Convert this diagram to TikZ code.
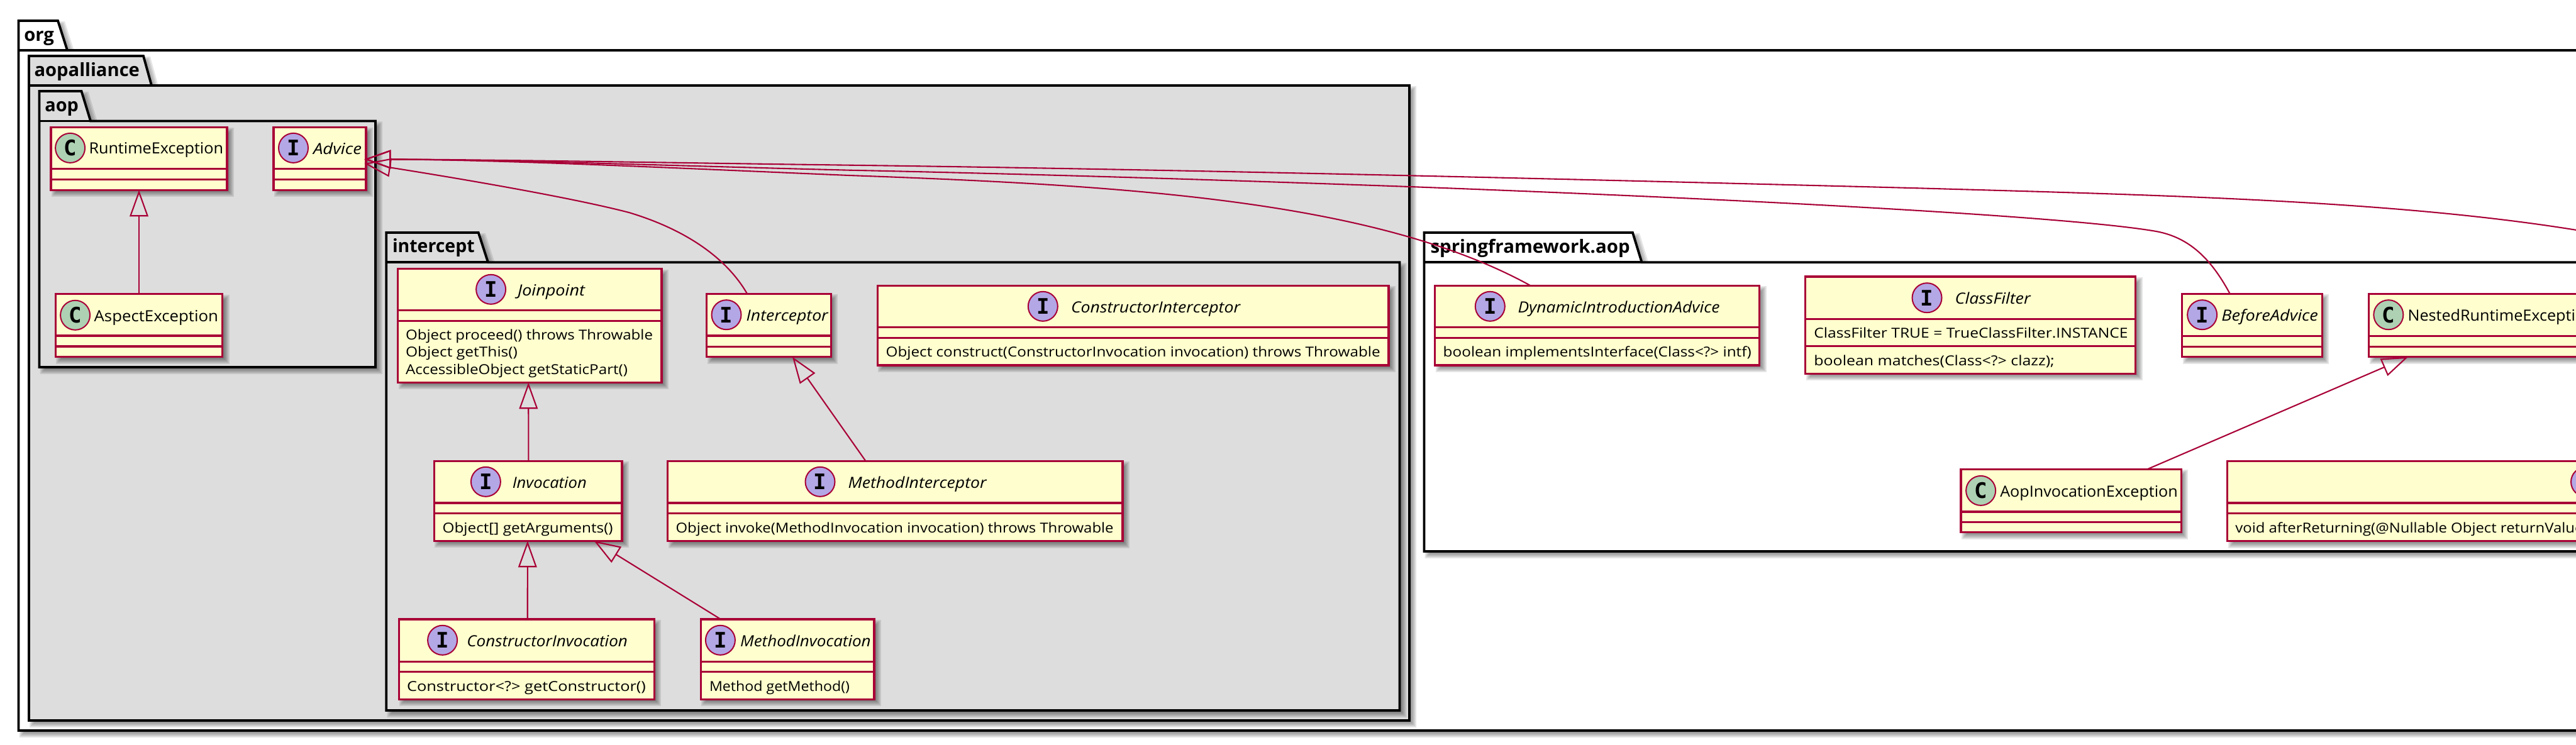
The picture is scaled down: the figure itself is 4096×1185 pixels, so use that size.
\documentclass[tikz,border=0pt]{standalone}
\usepackage{graphicx}
\usepackage{fontspec}
\setmainfont{Open Sans}
\newfontfamily\letterfont{DejaVu Sans Mono}[BoldFont={DejaVu Sans Mono Bold}]
\usetikzlibrary{arrows.meta,calc}
\definecolor{umlred}{HTML}{A80036}
\definecolor{umlfill}{HTML}{FEFECE}
\definecolor{umlgray}{HTML}{DDDDDD}
\definecolor{umlclass}{HTML}{ADD1B2}
\definecolor{umlintf}{HTML}{B4A7E5}
\tikzset{
  x=1pt,y=-1pt,
  umlnode/.style={rectangle,draw=umlred,fill=umlfill,line width=3.4pt,inner sep=0pt,outer sep=0pt},
  umldiv/.style={draw=umlred,line width=3.4pt},
  spot/.style={circle,draw=umlred,line width=2pt,minimum size=47pt,inner sep=0pt,outer sep=0pt,font=\fontsize{34}{34}\letterfont\bfseries},
  pkgline/.style={draw=black,line width=3.8pt,line join=miter},
  shade layer/.style={fill=black,opacity=.1},
  txt/.style={anchor=base west,inner sep=0pt,outer sep=0pt,text=black},
  conn/.style={draw=umlred,line width=2.1pt},
  ext/.style={conn,-{Triangle[open,length=42pt,width=29.5pt,line width=2.1pt]}},
}
% name x0 y0 x1 y1 div1 div2
\newcommand\umlbox[7]{%
  \foreach \e in {5,3,1,-1,-3}{\fill[shade layer] ({#2+6-\e},{#3+6-\e}) rectangle ({#4+6+\e},{#5+6+\e});}
  \node[umlnode,minimum width={(#4)-(#2)},minimum height={(#5)-(#3)}] (#1) at ({(#2+#4)/2},{(#3+#5)/2}) {};
  \draw[umldiv] (#2,#6) -- (#4,#6);
  \draw[umldiv] (#2,#7) -- (#4,#7);
}
% x0 y0 tabR tabRb y1 x1 y2 fill
\newcommand\umlpkg[8]{%
  \foreach \e in {5,3,1,-1,-3}{\fill[shade layer] ({#1+6-\e},{#2+6-\e}) -- ({#3+6+\e},{#2+6-\e}) -- ({#4+6+\e},{#5+6-\e}) -- ({#6+6+\e},{#5+6-\e}) -- ({#6+6+\e},{#7+6+\e}) -- ({#1+6-\e},{#7+6+\e}) -- cycle;}
  \path[pkgline,fill=#8] (#1,#2) -- (#3,#2) -- (#4,#5) -- (#6,#5) -- (#6,#7) -- (#1,#7) -- cycle;
  \draw[pkgline] (#1,#5) -- (#4,#5);
}
% name x baseline width text
\newcommand\ttl[5]{\node[txt] (#1) at (#2,#3) {\fontsize{29}{32}\selectfont\bfseries\resizebox{#4pt}{\height}{#5}};}
\newcommand\ncl[5]{\node[txt] (#1) at (#2,#3) {\fontsize{24.5}{28}\selectfont\resizebox{#4pt}{\height}{#5}};}
\newcommand\nif[5]{\node[txt] (#1) at (#2,#3) {\fontsize{24.5}{28}\selectfont\itshape\resizebox{#4pt}{\height}{#5}};}
\newcommand\mem[5]{\node[txt] (#1) at (#2,#3) {\fontsize{21.8}{25}\selectfont\resizebox{#4pt}{\height}{#5}};}
\newcommand\spC[3]{\node[spot,fill=umlclass] (#1) at (#2,#3) {C};}
\newcommand\spI[3]{\node[spot,fill=umlintf] (#1) at (#2,#3) {I};}
\begin{document}
\begin{tikzpicture}
\clip[use as bounding box] (0,0) rectangle (4096,1185);
\fill[white] (0,0) rectangle (4096,1185);

% packages
\umlpkg{29.5}{33}{92}{107}{80}{4300}{1162}{white}
\ttl{torg}{38.3}{65.8}{47.7}{org}
\umlpkg{46}{89}{228}{241}{136}{2241}{1146}{umlgray}
\ttl{taop}{54.5}{121.7}{167.5}{aopalliance}
\umlpkg{62.5}{145}{129.5}{144}{192.5}{597}{584}{umlgray}
\ttl{taopp}{71.4}{178}{53.6}{aop}
\umlpkg{614.3}{370}{760.7}{776}{417.3}{2225.5}{1130}{umlgray}
\ttl{tint}{624}{401.7}{130.6}{intercept}
\umlpkg{2264.5}{370}{2596}{2610.5}{417.3}{4300}{877}{white}
\ttl{tspr}{2274.6}{402.3}{317}{springframework.aop}

% aop
\umlbox{Runtime}{81}{202.5}{361}{302.3}{268.6}{285.5}
\spC{sRuntime}{111.6}{235.4}
\ncl{nRuntime}{141.5}{245}{213.5}{RuntimeException}
\umlbox{Advice}{435}{202.5}{582}{302.3}{268.6}{285.5}
\spI{sAdvice}{466.5}{235.4}
\nif{nAdvice}{498}{245}{77}{Advice}
\umlbox{Aspect}{88.4}{467.7}{353.6}{567.5}{534}{551}
\spC{sAspect}{119.6}{501.3}
\ncl{nAspect}{149.6}{511}{197.4}{AspectException}

% intercept
\umlbox{Joinpoint}{632.7}{427.7}{1052}{608.3}{493.3}{510.3}
\spI{sJoin}{780.6}{460.3}
\nif{nJoin}{823}{470}{107}{Joinpoint}
\mem{m1a}{645}{540.7}{393}{Object proceed() throws Throwable}
\mem{m1b}{645}{567.9}{178}{Object getThis()}
\mem{m1c}{645}{595}{353}{AccessibleObject getStaticPart()}

\umlbox{Interceptor}{1123.5}{467.3}{1321.4}{567.7}{534}{551.3}
\spI{sIcpt}{1155}{500.7}
\nif{nIcpt}{1186.7}{510.3}{130}{Interceptor}

\umlbox{CtorIcpt}{1395.4}{454.3}{2208}{581}{520.3}{537.3}
\spI{sCI}{1658.3}{487.3}
\nif{nCI}{1703}{497}{269}{ConstructorInterceptor}
\mem{mCI}{1408.6}{567.7}{786}{Object construct(ConstructorInvocation invocation) throws Throwable}

\umlbox{Invocation}{690.3}{733.3}{988.8}{860.3}{800}{816.3}
\spI{sInv}{772.4}{766.3}
\nif{nInv}{814.8}{776}{118}{Invocation}
\mem{mInv}{703.6}{847.3}{271}{Object[] getArguments()}

\umlbox{MethodIcpt}{1061.7}{733.3}{1785}{860.7}{800}{816.7}
\spI{sMI}{1304}{766.3}
\nif{nMI}{1348.5}{776}{220}{MethodInterceptor}
\mem{mMI}{1074.5}{847}{696}{Object invoke(MethodInvocation invocation) throws Throwable}

\umlbox{CtorInv}{634.2}{985}{1040.3}{1112.3}{1052.3}{1068.3}
\spI{sCtI}{703.6}{1018.3}
\nif{nCtI}{742.3}{1028}{255.7}{ConstructorInvocation}
\mem{mCtI}{647}{1099.3}{380}{Constructor<?> getConstructor()}

\umlbox{MethodInv}{1114.3}{985}{1389.8}{1112.3}{1052.3}{1068.3}
\spI{sMIv}{1145.4}{1018.3}
\nif{nMIv}{1177}{1028}{207.7}{MethodInvocation}
\mem{mMIv}{1128}{1099.3}{223}{Method getMethod()}

% springframework.aop
\umlbox{Dynamic}{2281.5}{454.3}{2797.6}{581}{520.3}{537.3}
\spI{sDyn}{2369.3}{487.3}
\nif{nDyn}{2413.5}{497}{321}{DynamicIntroductionAdvice}
\mem{mDyn}{2294.7}{567.7}{490}{boolean implementsInterface(Class<?> intf)}

\umlbox{ClassFilter}{2870.5}{440}{3395.6}{594.3}{507.3}{550.7}
\spI{sCF}{3064}{473.7}
\nif{nCF}{3108.7}{483.3}{120}{ClassFilter}
\mem{aCF}{2884.3}{537.3}{499.3}{ClassFilter TRUE = TrueClassFilter.INSTANCE}
\mem{mCF}{2884.3}{581}{382.5}{boolean matches(Class<?> clazz);}

\umlbox{Before}{3469.6}{467.3}{3692.4}{567.7}{534.3}{551.3}
\spI{sBA}{3501.6}{500.7}
\nif{nBA}{3532.3}{510.3}{153.5}{BeforeAdvice}

\umlbox{Nested}{3766.5}{467.3}{4131}{567.7}{534.3}{551.3}
\spC{sNest}{3797.8}{500.7}
\ncl{nNest}{3828.5}{510.3}{297}{NestedRuntimeException}

\umlbox{AopInv}{3118}{746.2}{3468.3}{846.6}{813.8}{830.5}
\spC{sAopI}{3149.6}{780.4}
\ncl{nAopI}{3180.3}{790}{282.4}{AopInvocationException}

\umlbox{AfterRet}{3541.7}{733.3}{4500}{860.6}{800}{816.6}
\spI{sAR}{4111.5}{766.5}
\mem{mAR}{3554.3}{847}{553}{void afterReturning(@Nullable Object returnValue}

% connectors
\draw[ext] (Aspect.north) -- (Runtime.south);
\draw[ext] ([xshift=.8pt]Invocation.north) -- ([xshift=-2.1pt]Joinpoint.south);
\draw[ext] ([xshift=1.5pt]CtorInv.north) -- ([xshift=-.7pt]Invocation.south);
\draw[ext] ([xshift=-106pt]MethodInv.north) -- ([xshift=105pt]Invocation.south);
\draw[ext] ([xshift=-46.9pt]MethodIcpt.north) -- ([xshift=37.5pt]Interceptor.south);
\draw[ext] ([xshift=121.5pt]AopInv.north) -- ([xshift=-119.75pt]Nested.south);

% connectors to Advice
\draw[ext] ([xshift=-34.4pt]Interceptor.north)
  .. controls (1155,410) and (1090,365) .. (1000,338)
  .. controls (900,312) and (700,279) .. ([xshift=-2.7pt,yshift=-7.6pt]Advice.east);
\draw[ext] ([xshift=-106pt]Dynamic.north)
  .. controls (2190,320) and (1800,295) .. (1350,279)
  .. controls (1100,268.5) and (800,254) .. ([xshift=-2.7pt,yshift=-.9pt]Advice.east);
\draw[ext] ([xshift=-35.3pt]Before.north)
  .. controls (3515,410) and (3480,378) .. (3430,368.3)
  .. controls (3300,345) and (2800,318) .. (2250,297.3)
  .. controls (1950,286.5) and (1650,277) .. (1350,270.7)
  .. controls (1100,264.5) and (800,254) .. ([xshift=-2.7pt,yshift=-.9pt]Advice.east);
\coordinate (offright) at (4200,385);
\draw[ext] (offright)
  .. controls (3900,322) and (3500,312) .. (3050,299.3)
  .. controls (2500,285) and (1900,270) .. (1350,262.7)
  .. controls (1100,259.5) and (800,254) .. ([xshift=-2.7pt,yshift=-.9pt]Advice.east);
\end{tikzpicture}
\end{document}
